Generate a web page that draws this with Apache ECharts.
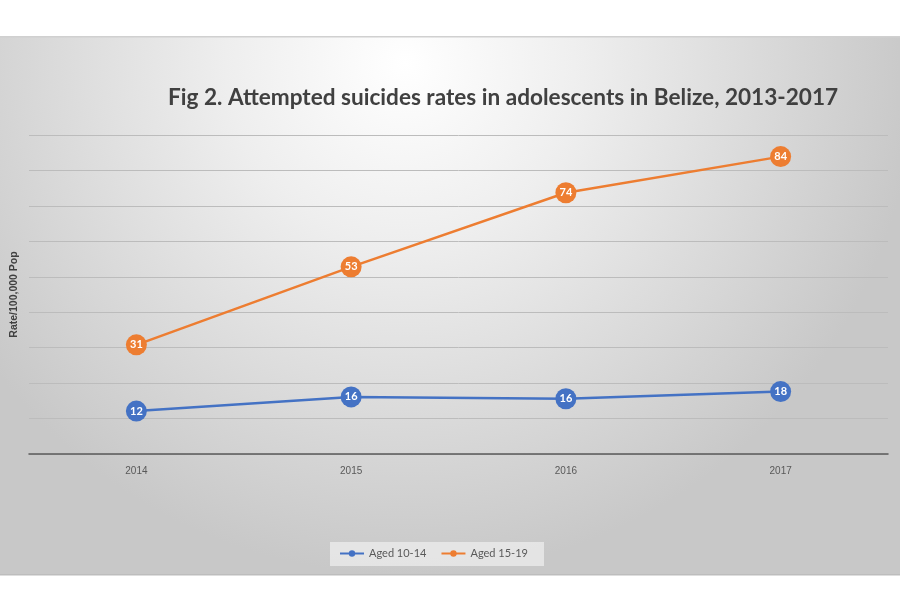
<!DOCTYPE html>
<html>
<head>
<meta charset="utf-8">
<script src="https://cdn.jsdelivr.net/npm/echarts@6/dist/echarts.min.js"></script>
<style>html,body{margin:0;padding:0;background:#fff;}#c{width:900px;height:600px;}</style>
</head>
<body>
<div id="c"></div>
<script>
var categories = ['2014', '2015', '2016', '2017'];
var aged1014 = [12.1, 16.1, 15.6, 17.6];
var aged1519 = [30.8, 52.8, 73.7, 83.9];
var seriesNames = ['Aged 10-14', 'Aged 15-19'];

var chart = echarts.init(document.getElementById('c'));
var labelCfg = {
  show: true, position: 'inside', color: '#fff', fontWeight: 'bold', fontSize: 11,
  fontFamily: 'Lato',
  formatter: function (p) { return Math.round(p.value); }
};
chart.setOption({
  backgroundColor: '#fff',
  graphic: [
    { type: 'rect', z: -10, shape: { x: 0, y: 36, width: 900, height: 539 },
      style: { fill: new echarts.graphic.RadialGradient(0.45, 0.05, 0.95, [
        { offset: 0, color: '#ffffff' }, { offset: 0.35, color: '#eeeeee' }, { offset: 1, color: '#c8c8c8' }]) } },
    { type: 'rect', z: -9, shape: { x: 0, y: 36, width: 900, height: 1.5 }, style: { fill: '#d0d0d0' } },
    { type: 'rect', z: -9, shape: { x: 0, y: 574, width: 900, height: 1.5 }, style: { fill: '#bdbdbd' } },
    { type: 'rect', z: -5, shape: { x: 330, y: 542, width: 214, height: 24 }, style: { fill: 'rgba(235,235,235,0.8)' } }
  ],
  title: {
    text: 'Fig 2. Attempted suicides rates in adolescents in Belize, 2013-2017',
    left: 163, top: 81,
    textStyle: { fontFamily: 'Lato', fontWeight: 'bold', fontSize: 22.6, color: '#404040' }
  },
  legend: {
    data: seriesNames, bottom: 36, left: 334, itemGap: 14, itemWidth: 24, itemHeight: 8,
    textStyle: { fontFamily: 'Lato', fontSize: 11, color: '#595959' }
  },
  grid: { left: 29, right: 12, top: 135, bottom: 146 },
  xAxis: {
    type: 'category', data: categories, boundaryGap: true,
    axisLine: { lineStyle: { color: '#595959', width: 1.5 } },
    axisTick: { show: false },
    axisLabel: { color: '#595959', fontSize: 10, fontFamily: 'Liberation Sans', margin: 12 }
  },
  yAxis: {
    type: 'value', min: 0, max: 90, interval: 10,
    name: 'Rate/100,000 Pop', nameLocation: 'middle', nameGap: 9, nameRotate: 90,
    nameTextStyle: { fontSize: 10.5, fontWeight: 'bold', color: '#404040', fontFamily: 'Liberation Sans' },
    axisLabel: { show: false }, axisLine: { show: false }, axisTick: { show: false },
    splitLine: { lineStyle: { color: '#bcbcbc', width: 1 } }
  },
  series: [
    { name: seriesNames[0], type: 'line', data: aged1014, symbol: 'circle', symbolSize: 21,
      itemStyle: { color: '#4472C4' }, lineStyle: { width: 2.5, color: '#4472C4' }, label: labelCfg },
    { name: seriesNames[1], type: 'line', data: aged1519, symbol: 'circle', symbolSize: 21,
      itemStyle: { color: '#ED7D31' }, lineStyle: { width: 2.5, color: '#ED7D31' }, label: labelCfg }
  ]
});
</script>
</body>
</html>
